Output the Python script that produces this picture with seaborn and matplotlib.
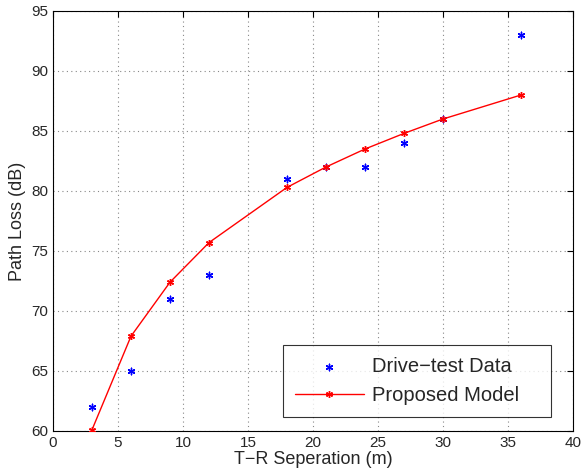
import matplotlib
matplotlib.use("Agg")
import matplotlib.pyplot as plt
import seaborn as sns
import pandas as pd

distance = [3, 6, 9, 12, 18, 21, 24, 27, 30, 36]
drive_test = [62, 65, 71, 73, 81, 82, 82, 84, 86, 93]
model = [60.1, 67.9, 72.4, 75.7, 80.3, 82.0, 83.5, 84.8, 86.0, 88.0]

sns.set_style("white")
plt.rcParams['font.family'] = ['Liberation Sans', 'DejaVu Sans']

df_d = pd.DataFrame({"x": distance, "y": drive_test})
df_m = pd.DataFrame({"x": distance, "y": model})

fig = plt.figure(figsize=(5.81, 4.75), dpi=100)
ax = fig.add_axes([53/581, 1 - 431/475, 520/581, 420/475])

sns.scatterplot(data=df_d, x="x", y="y", ax=ax, marker=(6, 2, 0), color="blue",
                s=22, linewidth=1.0, edgecolor="blue", label="Drive\u2212test Data", zorder=3)
sns.lineplot(data=df_m, x="x", y="y", ax=ax, color="red", linewidth=1.0,
             marker=(6, 2, 0), markersize=5, markeredgewidth=1.0, markeredgecolor="red",
             label="Proposed Model", zorder=4)

ax.set_xlim(0, 40)
ax.set_ylim(60, 95)
ax.set_xticks(range(0, 41, 5))
ax.set_yticks(range(60, 96, 5))
ax.grid(True, linestyle=(0, (1, 3)), color="#888888", linewidth=0.8)
ax.tick_params(direction="in", length=4, labelsize=11, top=True, right=True,
               color="black", width=0.8)
for s in ax.spines.values():
    s.set_color("black")
    s.set_linewidth(0.8)
ax.set_xlabel("T\u2212R Seperation (m)", fontsize=13, labelpad=1)
ax.set_ylabel("Path Loss (dB)", fontsize=13, labelpad=4)

leg = ax.legend(loc="lower left", mode="expand", fontsize=14.5, frameon=True, fancybox=False,
                edgecolor="black", borderpad=0.6, handlelength=3.4, handletextpad=0.4,
                labelspacing=0.5, borderaxespad=0,
                bbox_to_anchor=(230/520, 14/420, 268/520, 67/420))
leg.get_frame().set_linewidth(0.8)

fig.savefig("out.png", dpi=100)
